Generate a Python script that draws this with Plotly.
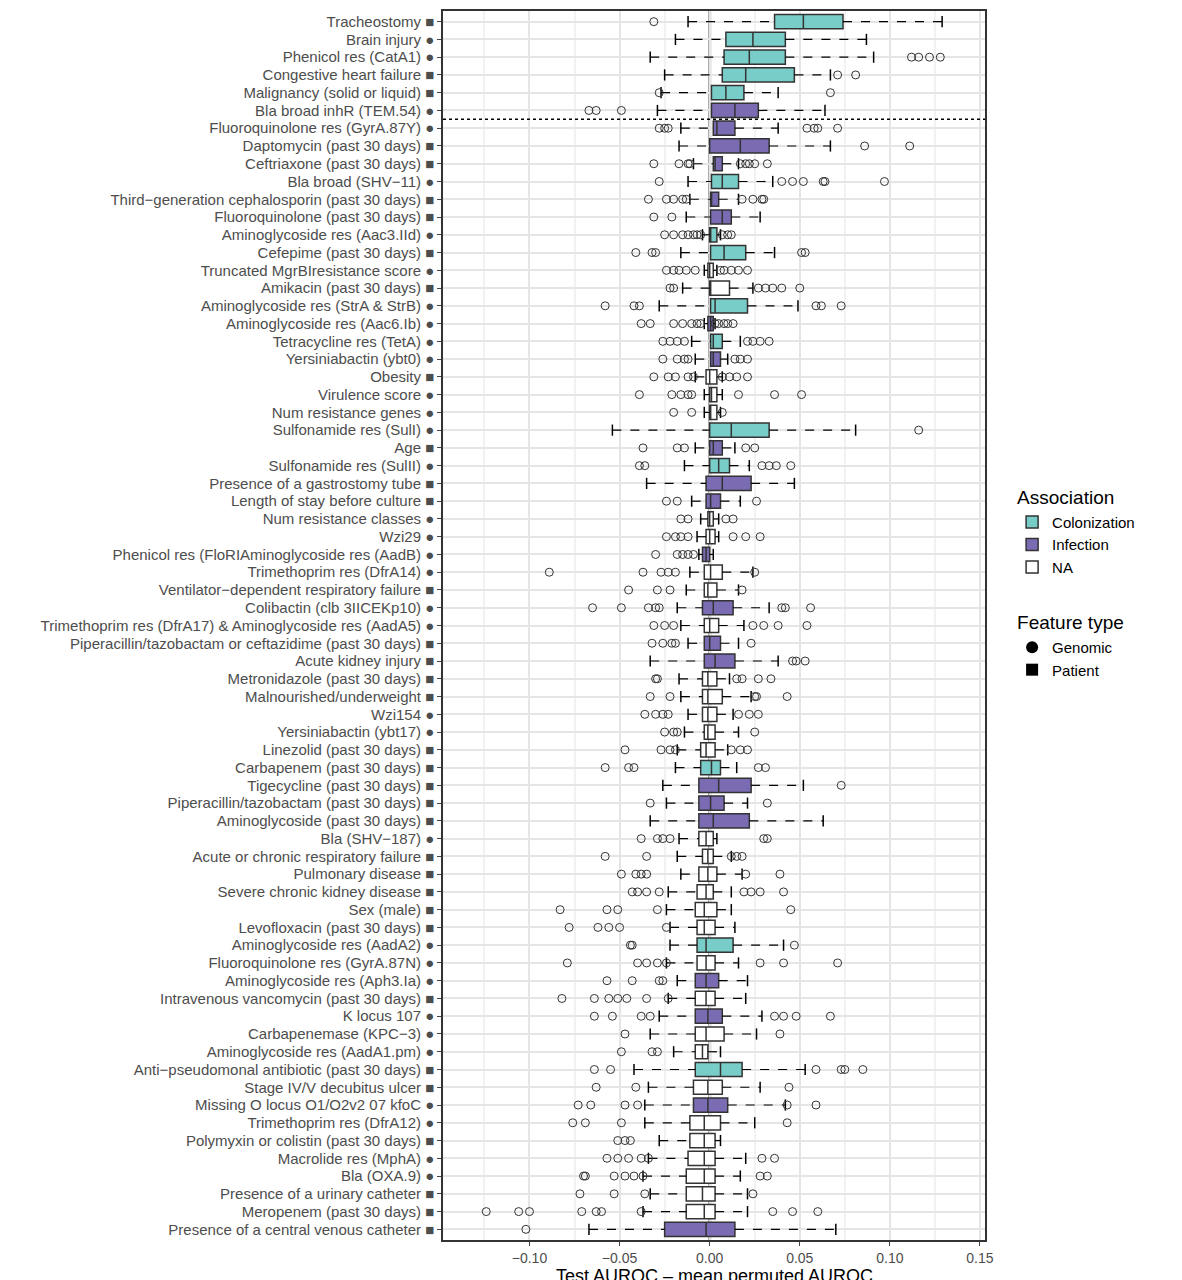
import plotly.graph_objects as go

features = ["Tracheostomy","Brain injury","Phenicol res (CatA1)","Congestive heart failure","Malignancy (solid or liquid)","Bla broad inhR (TEM.54)",
"Fluoroquinolone res (GyrA.87Y)","Daptomycin (past 30 days)","Ceftriaxone (past 30 days)","Bla broad (SHV−11)","Third−generation cephalosporin (past 30 days)",
"Fluoroquinolone (past 30 days)","Aminoglycoside res (Aac3.IId)","Cefepime (past 30 days)","Truncated MgrBIresistance score","Amikacin (past 30 days)",
"Aminoglycoside res (StrA & StrB)","Aminoglycoside res (Aac6.Ib)","Tetracycline res (TetA)","Yersiniabactin (ybt0)","Obesity","Virulence score",
"Num resistance genes","Sulfonamide res (SulI)","Age","Sulfonamide res (SulII)","Presence of a gastrostomy tube","Length of stay before culture",
"Num resistance classes","Wzi29","Phenicol res (FloRIAminoglycoside res (AadB)","Trimethoprim res (DfrA14)","Ventilator−dependent respiratory failure",
"Colibactin (clb 3IICEKp10)","Trimethoprim res (DfrA17) & Aminoglycoside res (AadA5)","Piperacillin/tazobactam or ceftazidime (past 30 days)",
"Acute kidney injury","Metronidazole (past 30 days)","Malnourished/underweight","Wzi154","Yersiniabactin (ybt17)","Linezolid (past 30 days)",
"Carbapenem (past 30 days)","Tigecycline (past 30 days)","Piperacillin/tazobactam (past 30 days)","Aminoglycoside (past 30 days)","Bla (SHV−187)",
"Acute or chronic respiratory failure","Pulmonary disease","Severe chronic kidney disease","Sex (male)","Levofloxacin (past 30 days)",
"Aminoglycoside res (AadA2)","Fluoroquinolone res (GyrA.87N)","Aminoglycoside res (Aph3.Ia)","Intravenous vancomycin (past 30 days)","K locus 107",
"Carbapenemase (KPC−3)","Aminoglycoside res (AadA1.pm)","Anti−pseudomonal antibiotic (past 30 days)","Stage IV/V decubitus ulcer",
"Missing O locus O1/O2v2 07 kfoC","Trimethoprim res (DfrA12)","Polymyxin or colistin (past 30 days)","Macrolide res (MphA)","Bla (OXA.9)",
"Presence of a urinary catheter","Meropenem (past 30 days)","Presence of a central venous catheter"]

ftype = list("PGGPPGGPPGPPGPGPGGGGPGGGPGPPGGGGPGGPPPPGGPPPPPGPPPPPGGGPGGGPPGGPGGPPP")
assoc = list("CCCCCIIIICIICCNNCICINNNCICIINNINNINIINNNNNCIIINNNNNNCNININNCNINNNNNNI")

q1 = [.036,.009,.008,.007,.001,.001,.002,0,.002,.001,.0005,.0005,0,.0005,-.001,0,.0005,-.001,.0005,.0005,-.002,0,0,0,0,0,-.002,-.002,-.001,-.002,-.004,-.003,-.003,-.004,-.003,-.003,-.003,-.004,-.004,-.004,-.003,-.005,-.005,-.006,-.006,-.006,-.006,-.004,-.006,-.007,-.008,-.007,-.007,-.007,-.008,-.008,-.008,-.008,-.008,-.008,-.009,-.009,-.011,-.011,-.012,-.013,-.013,-.013,-.025]
med = [.052,.024,.022,.020,.009,.014,.004,.017,.003,.007,.001,.007,.0005,.008,0,.0005,.003,.0005,.002,.002,0,.001,.0005,.012,.002,.005,.007,.0005,0,0,-.002,.0005,-.001,.002,0,0,.003,-.001,-.001,-.001,-.001,-.002,.001,.005,.0005,.002,-.002,-.001,-.001,-.002,-.003,-.003,-.002,-.002,-.002,-.002,-.001,-.002,-.004,.006,-.001,-.001,-.003,-.003,-.003,-.003,-.004,-.003,-.002]
q3 = [.074,.042,.042,.047,.019,.027,.014,.033,.007,.016,.005,.012,.004,.020,.002,.011,.021,.002,.007,.006,.004,.004,.004,.033,.007,.011,.023,.006,.002,.003,0,.007,.004,.013,.005,.006,.014,.004,.007,.004,.003,.003,.006,.023,.008,.022,.002,.002,.004,.002,.004,.003,.013,.003,.005,.003,.007,.008,-.001,.018,.007,.010,.006,.003,.003,.003,.003,.003,.014]
lw = [-.012,-.019,-.033,-.025,-.027,-.029,-.016,-.017,-.009,-.012,-.011,-.013,-.004,-.016,-.003,-.015,-.028,-.003,-.010,-.008,-.008,-.003,-.003,-.054,-.008,-.014,-.035,-.010,-.005,-.007,-.006,-.011,-.013,-.018,-.016,-.012,-.033,-.017,-.016,-.012,-.014,-.018,-.019,-.026,-.024,-.033,-.017,-.018,-.016,-.023,-.024,-.022,-.022,-.024,-.018,-.023,-.028,-.033,-.020,-.042,-.034,-.036,-.036,-.028,-.034,-.037,-.033,-.037,-.067]
uw = [.129,.087,.091,.067,.038,.064,.038,.067,.016,.035,.016,.028,.006,.036,.004,.024,.049,.003,.017,.010,.007,.007,.006,.081,.014,.022,.047,.017,.005,.005,.002,.024,.016,.033,.019,.016,.038,.011,.023,.013,.016,.010,.015,.052,.021,.063,.004,.012,.018,.012,.012,.014,.041,.016,.021,.020,.029,.026,.006,.053,.028,.042,.025,.006,.020,.017,.021,.021,.070]
outliers = [[-.031],[],[.112,.116,.122,.128],[.071,.081],[-.028,.067],[-.067,-.063,-.049],
[-.028,-.025,-.023,.054,.058,.060,.071],[.086,.111],[-.031,-.017,-.012,-.011,.017,.020,.022,.025,.032],
[-.028,.040,.046,.052,.063,.064,.097],[-.034,-.024,-.020,-.015,-.013,.018,.024,.029,.030],[-.031,-.021],
[-.025,-.020,-.015,-.012,-.009,-.007,-.005,.007,.010,.012],[-.041,-.032,-.030,.051,.053],
[-.024,-.020,-.017,-.013,-.008,.006,.008,.012,.016,.021],[-.022,-.020,.027,.031,.035,.040,.050],
[-.058,-.042,-.039,.059,.062,.073],[-.038,-.033,-.020,-.015,-.010,-.007,-.005,.003,.005,.008,.010,.013],
[-.026,-.022,-.018,-.014,.021,.024,.028,.033],[-.026,-.018,-.014,-.012,.014,.017,.021],
[-.031,-.023,-.019,-.012,-.009,.007,.011,.015,.021],[-.039,-.021,-.016,-.012,-.010,.016,.036,.051],
[-.020,-.010,.007],[.116],[-.037,-.018,-.014,.020,.025],[-.039,-.036,.029,.033,.037,.045],[],
[-.024,-.018,.026],[-.016,-.012,.009,.013],[-.024,-.019,-.016,-.012,.013,.020,.028],[-.030,-.018,-.015,-.012,-.009],
[-.089,-.037,-.027,-.023,-.019,.025],[-.045,-.029,-.022,.018],[-.065,-.049,-.034,-.030,-.028,.040,.042,.056],
[-.031,-.025,-.020,.024,.030,.038,.054],[-.032,-.026,-.021,-.019,.023],[.046,.048,.053],
[-.030,-.029,.015,.018,.027,.034],[-.033,-.022,.025,.026,.043],[-.036,-.030,-.026,-.023,.016,.022,.027],
[-.025,-.020,-.018,.025],[-.047,-.027,-.022,-.019,.012,.017,.021],[-.058,-.045,-.042,.027,.031],[.073],[-.033,.032],[],
[-.038,-.029,-.026,-.022,.030,.032],[-.058,-.035,.012,.015,.018],[-.049,-.041,-.038,-.035,.020,.039],
[-.043,-.040,-.035,-.028,.019,.023,.028,.041],[-.083,-.057,-.051,-.029,.045],[-.078,-.062,-.056,-.050,-.024],
[-.044,-.043,.047],[-.079,-.040,-.035,-.029,-.024,.028,.041,.071],[-.057,-.043,-.028,-.026],
[-.082,-.064,-.056,-.051,-.046,-.035,-.023],[-.064,-.054,-.038,-.033,.036,.041,.048,.067],[-.047,.039],
[-.049,-.032,-.029],[-.064,-.055,.059,.073,.075,.085],[-.063,-.041,.044],[-.073,-.066,-.047,-.040,.043,.059],
[-.076,-.069,-.049,.043],[-.051,-.047,-.044],[-.057,-.051,-.045,-.038,-.034,.029,.036],
[-.070,-.069,-.053,-.047,-.042,-.037,.028,.032],[-.072,-.053,-.036,.024],
[-.124,-.106,-.100,-.071,-.063,-.060,-.038,.035,.046,.060],[-.102]]

n = len(features)
ys = list(range(n))
fig = go.Figure()

wx, wy, cx, cy = [], [], [], []
for i in ys:
    wx += [lw[i], q1[i], None, q3[i], uw[i], None]
    wy += [i, i, None, i, i, None]
    cx += [lw[i], uw[i]]; cy += [i, i]
fig.add_trace(go.Scatter(x=wx, y=wy, mode="lines", line=dict(color="black", width=1.2, dash="dash"),
                         showlegend=False, hoverinfo="skip"))
fig.add_trace(go.Scatter(x=cx, y=cy, mode="markers", marker=dict(symbol="line-ns", size=8, line=dict(width=1.5, color="black")),
                         showlegend=False, hoverinfo="skip"))

groups = [("C", "Colonization", "#79CDC8"), ("I", "Infection", "#7B6BB2"), ("N", "NA", "white")]
for code, name, col in groups:
    idx = [i for i in ys if assoc[i] == code]
    fig.add_trace(go.Box(
        y=idx, q1=[q1[i] for i in idx], median=[med[i] for i in idx], q3=[q3[i] for i in idx],
        lowerfence=[q1[i] for i in idx], upperfence=[q3[i] for i in idx],
        orientation="h", fillcolor=col, line=dict(color="#333333", width=1.5), width=0.8,
        name=name, legendgroup="assoc", legendgrouptitle=dict(text="Association", font=dict(size=19, color="black")),
        boxpoints=False, hoverinfo="skip"))

ox, oy = [], []
for i in ys:
    for v in outliers[i]:
        ox.append(v); oy.append(i)
fig.add_trace(go.Scatter(x=ox, y=oy, mode="markers", marker=dict(symbol="circle-open", size=8, color="#333333", line=dict(width=1)),
                         showlegend=False, hoverinfo="skip"))

for sym, nm in [("circle", "Genomic"), ("square", "Patient")]:
    fig.add_trace(go.Scatter(x=[None], y=[None], mode="markers", marker=dict(symbol=sym, size=12, color="black"),
                             name=nm, legendgroup="ft", legendgrouptitle=dict(text="Feature type", font=dict(size=19, color="black"))))

ticktext = [f"{f} {'●' if t == 'G' else '■'}" for f, t in zip(features, ftype)]

fig.add_shape(type="line", x0=0, x1=0, y0=-0.6, y1=n - 0.4, line=dict(color="#9a9a9a", width=3), layer="below")
fig.add_shape(type="line", xref="paper", x0=0, x1=1, y0=5.5, y1=5.5, line=dict(color="black", width=1.5, dash="dot"))
fig.add_annotation(text="Test AUROC – mean permuted AUROC", xref="paper", yref="paper", x=0.5, y=0,
                   yshift=-36, yanchor="middle", showarrow=False, font=dict(size=18, color="black"))

fig.update_layout(
    width=1182, height=1280, plot_bgcolor="white", paper_bgcolor="white",
    margin=dict(l=435, r=205, t=3, b=48),
    font=dict(family="Liberation Sans, Arial", color="#4d4d4d"),
    boxmode="overlay",
    legend=dict(x=1.05, y=0.62, yanchor="top", font=dict(size=15, color="black"), tracegroupgap=30),
    xaxis=dict(range=[-0.148, 0.1528], tickvals=[-0.10, -0.05, 0, 0.05, 0.10, 0.15],
               ticktext=["−0.10", "−0.05", "0.00", "0.05", "0.10", "0.15"], automargin=False,
               showgrid=True, gridcolor="#e5e5e5", gridwidth=1.5, zeroline=False,
               minor=dict(dtick=0.025, showgrid=True, gridcolor="#f2f2f2"),
               showline=True, linecolor="#333333", linewidth=1.5, mirror=True,
               ticks="outside", ticklen=4, tickfont=dict(size=14, color="#4d4d4d")),
    yaxis=dict(range=[n - 0.4, -0.6], tickvals=ys, ticktext=ticktext, showgrid=True, gridcolor="#e5e5e5",
               gridwidth=1.5, zeroline=False, showline=True, linecolor="#333333", linewidth=1.5, mirror=True,
               automargin=False, ticks="outside", ticklen=4, tickfont=dict(size=15, color="#4d4d4d")),
)
fig.write_html("out.html")
